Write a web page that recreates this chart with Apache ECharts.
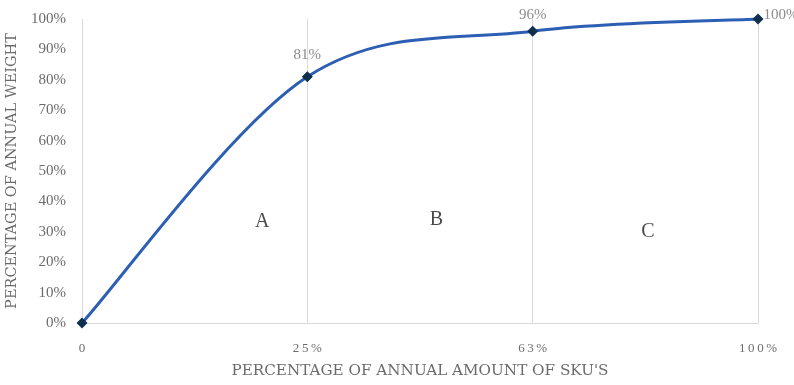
<!DOCTYPE html>
<html>
<head>
<meta charset="utf-8">
<script src="https://cdn.jsdelivr.net/npm/echarts@6/dist/echarts.min.js"></script>
<style>
  html, body { margin: 0; padding: 0; background: #fff; }
  #chart { width: 794px; height: 385px; }
</style>
</head>
<body>
<div id="chart"></div>
<script>
// Cumulative ABC curve: share of annual weight against share of SKUs
const categories = ['0', '25%', '63%', '100%'];
const cumulativeWeight = [0, 81, 96, 100];
const yTicks = [0, 10, 20, 30, 40, 50, 60, 70, 80, 90, 100];
// Class names and where they sit (x in category units, y in percent)
const zoneLabels = ['A', 'B', 'C'];
const zoneX = [0.8, 1.573, 2.511];
const zoneY = [33.2, 33.9, 29.9];

const serif = '"Liberation Serif", "DejaVu Serif", serif';
const nameFont = '"DejaVu Serif", "Liberation Serif", serif';
const spaced = s => s.split('').join('\u2009');
const chart = echarts.init(document.getElementById('chart'));

// Bezier segment between consecutive points, tangents taken from neighbours
function curveSegment(params, api) {
  const i = params.dataIndexInside;
  const n = params.dataInsideLength;
  if (i >= n - 1) return null;
  const pt = k => api.coord([api.value(0, k), api.value(1, k)]);
  const p0 = pt(Math.max(i - 1, 0));
  const p1 = pt(i);
  const p2 = pt(i + 1);
  const p3 = pt(Math.min(i + 2, n - 1));
  const t = 1 / 6;
  return {
    type: 'bezierCurve',
    shape: {
      x1: p1[0], y1: p1[1], x2: p2[0], y2: p2[1],
      cpx1: p1[0] + (p2[0] - p0[0]) * t, cpy1: p1[1] + (p2[1] - p0[1]) * t,
      cpx2: p2[0] - (p3[0] - p1[0]) * t, cpy2: p2[1] - (p3[1] - p1[1]) * t
    },
    style: { stroke: '#2c5fb3', lineWidth: 3, fill: null, lineCap: 'round' }
  };
}

chart.setOption({
  animation: false,
  grid: { left: 82, right: 36, top: 19, bottom: 62, containLabel: false, outerBoundsMode: 'none' },
  xAxis: [{
    type: 'category',
    data: categories,
    boundaryGap: false,
    name: "PERCENTAGE OF ANNUAL AMOUNT OF SKU'S",
    nameLocation: 'middle',
    nameGap: 41,
    nameTextStyle: { fontFamily: nameFont, fontSize: 15.2, color: '#6b6b6b' },
    axisLine: { lineStyle: { color: '#d9d9d9' } },
    axisTick: { show: false },
    axisLabel: { fontFamily: serif, fontSize: 13, color: '#6b6b6b', margin: 19, formatter: spaced },
    splitLine: { show: true, lineStyle: { color: '#d9d9d9', width: 1 } }
  }, {
    type: 'value', min: 0, max: 3, show: false
  }],
  yAxis: {
    type: 'value',
    min: 0,
    max: 100,
    interval: 10,
    name: 'PERCENTAGE OF ANNUAL WEIGHT',
    nameLocation: 'middle',
    nameGap: 58,
    nameTextStyle: { fontFamily: nameFont, fontSize: 14.5, color: '#6b6b6b' },
    axisLine: { show: false },
    axisTick: { show: false },
    splitLine: { show: false },
    axisLabel: {
      fontFamily: serif, fontSize: 15, color: '#6b6b6b', margin: 16,
      formatter: v => yTicks.includes(v) ? v + '%' : ''
    }
  },
  series: [
    {
      type: 'custom',
      data: cumulativeWeight.map((v, i) => [i, v]),
      renderItem: curveSegment,
      silent: true,
      z: 2
    },
    {
      type: 'line',
      data: cumulativeWeight.map((v, i) => ({
        value: v,
        label: i === 0 ? { show: false } :
          (i === cumulativeWeight.length - 1
            ? { show: true, position: 'right', offset: [-8, -4] }
            : (i === 2
              ? { show: true, position: 'top', offset: [0, 5] }
              : { show: true, position: 'top', offset: [0, -1] }))
      })),
      symbol: 'diamond',
      symbolSize: 11,
      itemStyle: { color: '#0f2f4d' },
      lineStyle: { opacity: 0 },
      label: {
        fontFamily: serif, fontSize: 15, color: '#8c8c8c', distance: 8,
        formatter: p => p.value + '%'
      },
      z: 3
    },
    {
      type: 'scatter',
      xAxisIndex: 1,
      data: zoneLabels.map((name, i) => ({ value: [zoneX[i], zoneY[i]], name })),
      symbolSize: 0,
      label: {
        show: true, position: 'inside',
        fontFamily: serif, fontSize: 20, color: '#1a1a1a',
        formatter: p => p.name
      },
      silent: true
    }
  ]
});
</script>
</body>
</html>
